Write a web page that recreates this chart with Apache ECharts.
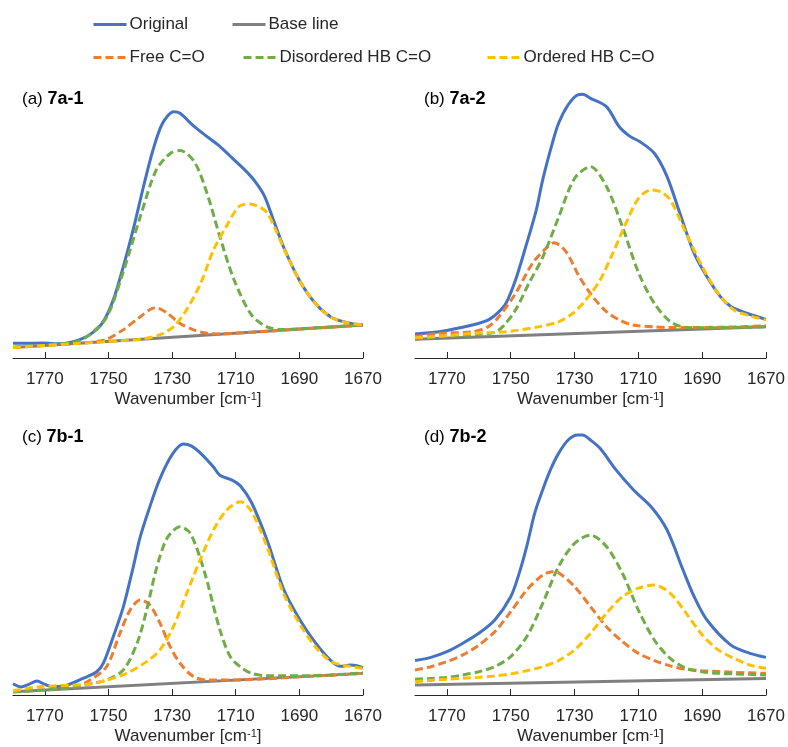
<!DOCTYPE html>
<html>
<head>
<meta charset="utf-8">
<title>C=O band deconvolution</title>
<script src="https://cdn.jsdelivr.net/npm/echarts@6/dist/echarts.min.js"></script>
<style>
    body {margin: 0;background: #fff;}
    #main {width: 788px;height: 747px;}
</style>
</head>
<body>
<div id="main"></div>
<script>
// wavenumber ticks on every x axis
var tickValues = [1770, 1750, 1730, 1710, 1690, 1670];

// (a) 7a-1  [wavenumber, intensity]
var a_original = [[1780,5.5],[1775,5.5],[1771,5.6],[1765,5.3],[1761,6.1],[1756,8.6],[1752,12.9],[1748.5,21.6],[1745,35.5],[1742,49],[1739,63.9],[1736,77.6],[1733,87.6],[1729.5,91.9],[1727.5,91.3],[1723,86.3],[1719,82.6],[1715,79],[1711,74.5],[1707,70],[1704,66],[1701,60.5],[1698,51],[1695,41.5],[1690,29],[1685,20.4],[1680,15.2],[1675,13.2],[1670,12.3]];
var a_base = [[1780,3.9],[1670,12.3]];
var a_free = [[1780,3.9],[1770,4.7],[1760,5.5],[1755,6.0],[1750.5,7],[1745.5,10.4],[1740,15.4],[1736,18.6],[1735,18.7],[1731.5,16.7],[1727.5,12.9],[1723,10.4],[1719,9.2],[1715,9.0],[1700,10.0],[1690,10.8],[1680,11.5],[1670,12.3]];
var a_disordered = [[1780,4.0],[1770,4.8],[1765,5.3],[1760,6.1],[1756,8.6],[1750.5,15.4],[1745.5,31.6],[1740,52.7],[1735,70.1],[1730.5,76.4],[1727.5,77.4],[1723,73.2],[1719,61.4],[1715,45.3],[1710.5,29.1],[1705,16],[1700,11.5],[1695,10.6],[1690,10.9],[1680,11.6],[1670,12.3]];
var a_ordered = [[1780,3.9],[1770,4.7],[1760,5.4],[1750,6.2],[1740,7.0],[1734,8.6],[1729.5,11.7],[1725.5,17.9],[1721,27.9],[1717,40.3],[1713,49],[1709,56.5],[1705.5,57.5],[1702,56],[1700,54],[1697.5,48],[1695,41.2],[1690,29],[1685,20.4],[1680,15.2],[1675,13.2],[1670,12.3]];

// (b) 7a-2
var b_original = [[1780,9.0],[1772.5,9.8],[1762,12.3],[1757,14.2],[1754,16.9],[1751.5,20.4],[1748.5,29.1],[1745.3,41.5],[1742,55.2],[1740,66.4],[1737,80],[1735,87.6],[1732,94.5],[1729,98.2],[1727.5,98.4],[1725,96.9],[1720,93.8],[1716,86.3],[1712.5,82.6],[1709.5,80.7],[1705,76.4],[1701,67.7],[1697,54],[1692.5,39],[1688.5,30.3],[1684.3,22.9],[1681,19.2],[1676,16.7],[1670,14.4]];
var b_base = [[1780,7.0],[1670,11.7]];
var b_free = [[1780,8.0],[1772.5,9.2],[1762,9.8],[1757,11.7],[1753.7,15.4],[1748.5,24.1],[1743.2,35.3],[1739,40.9],[1736.4,43],[1732.7,39.7],[1728.5,30.3],[1724.3,22.9],[1720,17.3],[1716,14.2],[1711.7,12.3],[1705,11.6],[1700,11.4],[1690,11.4],[1680,11.6],[1670,12.0]];
var b_disordered = [[1780,7.0],[1772,8.0],[1760,8.8],[1755,9.6],[1752.5,11.7],[1748.5,17.9],[1744.3,27.9],[1740,37.5],[1735,52.5],[1730,67],[1725,71.4],[1720,64],[1715,49],[1710,32],[1705,20.4],[1700,13.6],[1695,11.4],[1690,11.3],[1680,11.4],[1670,11.7]];
var b_ordered = [[1780,7.6],[1770,8.3],[1762,9.2],[1751.5,9.8],[1741,11.7],[1735,13.5],[1730.5,16.7],[1726.5,21.6],[1722,29.1],[1718,39.1],[1714,50],[1710,59.5],[1706,62.7],[1703,62],[1700,59],[1695,46.5],[1690,34.1],[1685,24.1],[1680,17.9],[1675,15.7],[1670,14.2]];

// (c) 7b-1
var c_original = [[1780,4.2],[1777.5,3.0],[1775,4.0],[1772.5,5.2],[1770,4.0],[1767.5,3.1],[1763,3.7],[1758,6.2],[1753.7,8.7],[1751.6,11.9],[1748.5,21.8],[1745.3,33.1],[1742.2,48],[1740,59.3],[1737,70.5],[1734,80.5],[1730,90],[1726.5,94],[1724,93.3],[1721,90.5],[1717,85.4],[1715,82.3],[1711,80.4],[1708.5,78.3],[1705,72],[1700,57.5],[1695,39.8],[1690,28.5],[1685,19.6],[1680,12.8],[1677,10.8],[1674,11.2],[1672,11.0],[1670,10.2]];
var c_base = [[1780,1.2],[1670,8.1]];
var c_free = [[1780,1.2],[1770,2.0],[1760,3.3],[1755.8,5.6],[1750.6,10.6],[1746.4,23.1],[1743.2,31.8],[1740,35.6],[1737,33.7],[1733.8,26.9],[1730.6,18.1],[1727.5,11.9],[1723.3,6.9],[1719,5.6],[1710,5.6],[1700,6.1],[1690,6.8],[1680,7.4],[1670,8.1]];
var c_disordered = [[1780,1.2],[1770,1.9],[1760,3.1],[1755,4.4],[1750.6,5.6],[1745.3,9.4],[1741,19.4],[1738,31.8],[1735,47],[1731.6,58.7],[1727.5,63.0],[1724.3,60.6],[1720,46.8],[1715,24.5],[1711.7,14.3],[1708.6,10.6],[1705,8.1],[1700,7.2],[1690,7.2],[1680,7.5],[1670,8.3]];
var c_ordered = [[1780,1.6],[1771.6,3.1],[1755.8,4.1],[1750.6,5.6],[1744.3,8.1],[1738,12.5],[1733.8,16.9],[1729.6,25.6],[1725.4,38.1],[1721.2,50.6],[1717,61.8],[1712.8,69.3],[1708.5,72.4],[1705,68.7],[1700,55],[1695,38.1],[1690,26.8],[1685,18.1],[1680,12.5],[1675,10.9],[1670,10]];

// (d) 7b-2
var d_original = [[1780,12.9],[1775,14.1],[1770,16.2],[1765,19.4],[1760,23.1],[1755,28.1],[1750,36.8],[1747.5,45],[1745,55.6],[1742.5,68],[1740,76.8],[1737.5,84.5],[1735,90.5],[1732,95.5],[1729,97.4],[1727.5,97.4],[1725,95.5],[1722,92.4],[1717,84.3],[1711.5,76.8],[1706,70.5],[1701,61.8],[1696,46.8],[1692.5,36.8],[1688.5,28.1],[1681,18.7],[1675,15.6],[1670,14.1]];
var d_base = [[1780,3.7],[1670,6.2]];
var d_free = [[1780,9.4],[1775,10.6],[1770,12.5],[1765,15],[1760,18.7],[1755,23.7],[1750,31.2],[1745,39.3],[1740,44.9],[1737,46.2],[1735,45.8],[1730,40.6],[1725,33.1],[1720,25.6],[1715,20],[1710,15.6],[1705,12.9],[1700,10.9],[1695,9.6],[1690,9.1],[1680,8.5],[1670,8.1]];
var d_disordered = [[1780,5.9],[1775,6.2],[1770,6.6],[1765,7.5],[1760,8.7],[1755,10.6],[1750,14.4],[1745,21.8],[1740,34.3],[1735,48.1],[1730,56.8],[1725,59.9],[1720,55.6],[1715,45.6],[1710,31.8],[1705,20.6],[1700,13.7],[1695,10],[1690,8.7],[1685,8.1],[1680,7.9],[1670,7.5]];
var d_ordered = [[1780,5],[1770,5.9],[1760,6.6],[1755,7.1],[1750,7.9],[1745,9.1],[1740,10.6],[1735,12.9],[1730,16.9],[1725,23.1],[1720,30.6],[1715,36.8],[1710,40],[1705,41.2],[1700,38.1],[1695,30.6],[1690,22.5],[1685,16.9],[1680,13.7],[1675,11.2],[1670,10]];

var panels = [
    {label: '(a) ', sample: '7a-1', left: 13, top: 90, width: 350, height: 268, data: [a_original, a_base, a_free, a_disordered, a_ordered]},
    {label: '(b) ', sample: '7a-2', left: 415, top: 90, width: 351, height: 268, data: [b_original, b_base, b_free, b_disordered, b_ordered]},
    {label: '(c) ', sample: '7b-1', left: 13, top: 428, width: 350, height: 267, data: [c_original, c_base, c_free, c_disordered, c_ordered]},
    {label: '(d) ', sample: '7b-2', left: 415, top: 428, width: 351, height: 267, data: [d_original, d_base, d_free, d_disordered, d_ordered]}
];

var names = ['Original', 'Base line', 'Free C=O', 'Disordered HB C=O', 'Ordered HB C=O'];
var colors = ['#4472C4', '#808080', '#ED7D31', '#70AD47', '#FFC000'];
var dashed = [false, false, true, true, true];

var font = '"Liberation Sans", Arial, sans-serif';

var grids = [], xAxes = [], yAxes = [], titles = [], series = [];
panels.forEach(function (p, i) {
    grids.push({left: p.left, top: p.top, width: p.width, height: p.height});
    titles.push({
        text: p.label + '{b|' + p.sample + '}',
        left: p.left + 9,
        top: p.top,
        padding: 0,
        textStyle: {
            fontFamily: font, fontSize: 17, fontWeight: 'normal', color: '#000',
            rich: {b: {fontFamily: font, fontSize: 18, fontWeight: 'bold', color: '#000'}}
        }
    });
    xAxes.push({
        gridIndex: i,
        type: 'value',
        min: 1670,
        max: 1780,
        inverse: true,
        splitLine: {show: false},
        axisLine: {lineStyle: {color: '#262626', width: 1}},
        axisTick: {inside: true, length: 6, customValues: tickValues, lineStyle: {color: '#262626'}},
        axisLabel: {
            customValues: tickValues, fontFamily: font, fontSize: 17, color: '#262626', margin: 13,
            formatter: function (v) { return String(v); }
        },
        name: 'Wavenumber [cm{sup|-1}]',
        nameLocation: 'middle',
        nameGap: 33,
        nameTextStyle: {
            fontFamily: font, fontSize: 17, color: '#262626',
            rich: {sup: {fontFamily: font, fontSize: 11, color: '#262626', verticalAlign: 'top'}}
        }
    });
    yAxes.push({gridIndex: i, type: 'value', min: 0, max: 100, show: false});
    p.data.forEach(function (d, k) {
        series.push({
            name: names[k],
            type: 'line',
            xAxisIndex: i,
            yAxisIndex: i,
            data: d,
            smooth: 0.3,
            symbol: 'none',
            color: colors[k],
            lineStyle: {width: 3, color: colors[k], type: dashed[k] ? [8, 4] : 'solid', cap: 'butt'},
            z: 2 + k
        });
    });
});

// legend items, placed one by one like the figure
var legendPos = [
    {name: 'Original', left: 92, top: 16},
    {name: 'Base line', left: 231, top: 16},
    {name: 'Free C=O', left: 92, top: 49},
    {name: 'Disordered HB C=O', left: 242, top: 49},
    {name: 'Ordered HB C=O', left: 486, top: 49}
];
var legends = legendPos.map(function (l) {
    return {
        data: [l.name],
        left: l.left,
        top: l.top,
        padding: 0,
        itemWidth: 33,
        itemHeight: 14,
        itemGap: 0,
        selectedMode: false,
        itemStyle: {opacity: 0},
        lineStyle: {width: 3},
        textStyle: {fontFamily: font, fontSize: 17, color: '#262626', padding: [0, 0, 0, -2]}
    };
});

var chart = echarts.init(document.getElementById('main'));
chart.setOption({
    animation: false,
    backgroundColor: '#fff',
    textStyle: {fontFamily: font},
    title: titles,
    legend: legends,
    grid: grids,
    xAxis: xAxes,
    yAxis: yAxes,
    series: series
});
</script>
</body>
</html>
